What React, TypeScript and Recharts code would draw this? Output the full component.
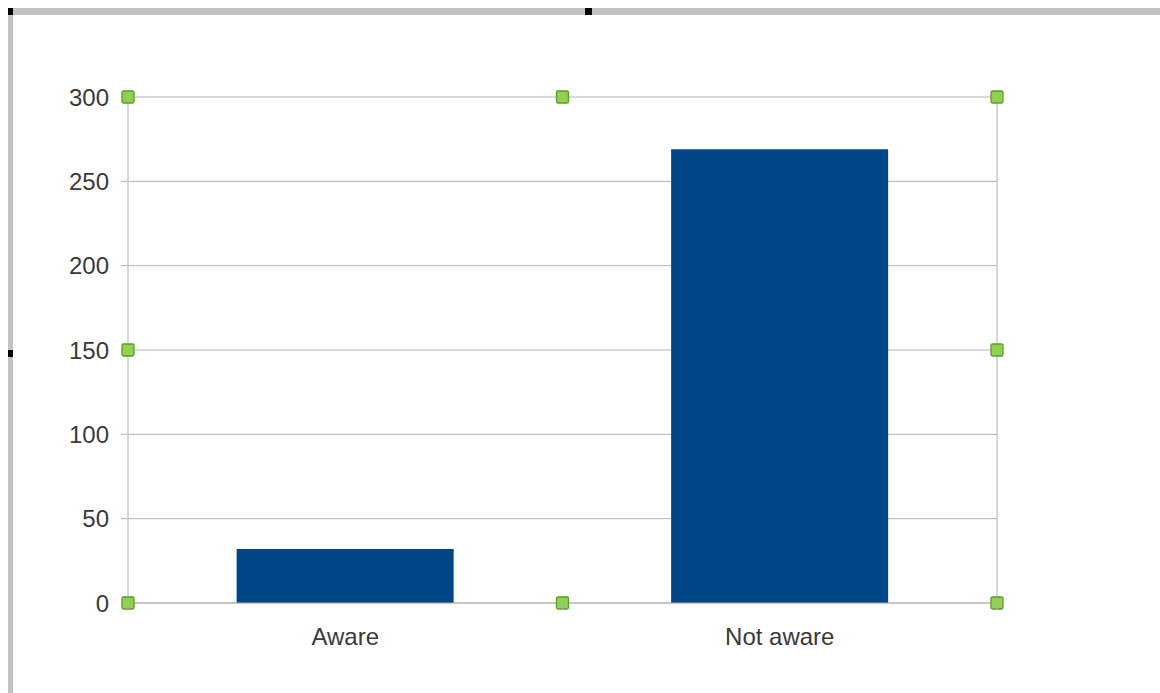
import React from "react";
import { ComposedChart, Bar, XAxis, YAxis, CartesianGrid, ReferenceLine, ReferenceDot } from "recharts";

const categories = ["Aware", "Not aware"];
const counts = [32, 269];
const yTicks = [0, 50, 100, 150, 200, 250, 300];
const boundaryTicks = [0, 0.5, 1, 1.5, 2];
const handleXs = [0, 1, 2, 0, 2, 0, 1, 2];
const handleYs = [300, 300, 300, 150, 150, 0, 0, 0];

const data = categories.map((name, i) => ({ name, value: counts[i], mid: i + 0.5 }));
const handles = handleXs.map((x, i) => ({ x, y: handleYs[i] }));

const FONT = '"Liberation Sans", Arial, sans-serif';
const GRID = "#b3b3b3";
const TEXT = "#3a3a3a";

const BoundaryTick = (props: any) => {
  const { x, y, payload } = props;
  const v = payload.value as number;
  if (Number.isInteger(v)) {
    return <line x1={x} x2={x} y1={y} y2={y + 7} stroke={GRID} strokeWidth={1} />;
  }
  const label = categories[Math.floor(v)];
  return (
    <text x={x} y={y + 42} textAnchor="middle" fill={TEXT} fontSize={24} fontFamily={FONT}>
      {label}
    </text>
  );
};

const Handle = (props: any) => {
  const { cx, cy } = props;
  return (
    <rect x={cx - 6} y={cy - 6} width={12} height={12} rx={1.5} fill="#92d050" stroke="#5b9b2f" strokeWidth={1.3} />
  );
};

export default function App() {
  return (
    <div style={{ position: "absolute", left: 0, top: 0, width: 1160, height: 693, background: "#fff", overflow: "hidden" }}>
      <div style={{ position: "absolute", left: 8, top: 8, width: 1152, height: 7, background: "#c3c3c3" }} />
      <div style={{ position: "absolute", left: 8, top: 8, width: 5, height: 685, background: "#c3c3c3" }} />
      <div style={{ position: "absolute", left: 8, top: 8, width: 5, height: 7, background: "#000" }} />
      <div style={{ position: "absolute", left: 585, top: 8, width: 7, height: 7, background: "#000" }} />
      <div style={{ position: "absolute", left: 8, top: 350, width: 5, height: 7, background: "#000" }} />
      <div style={{ position: "absolute", left: 0, top: 0 }}>
        <ComposedChart
          width={1160}
          height={693}
          data={data}
          margin={{ top: 97, right: 163, bottom: 0, left: 0 }}
          barCategoryGap="25%"
        >
          <CartesianGrid xAxisId="num" yAxisId="y" vertical={false} stroke={GRID} />
          <XAxis xAxisId="cat" dataKey="name" type="category" hide height={0} />
          <XAxis
            xAxisId="num"
            dataKey="mid"
            type="number"
            domain={[0, 2]}
            allowDataOverflow
            ticks={boundaryTicks}
            interval={0}
            height={90}
            tickSize={0}
            tickMargin={0}
            tickLine={false}
            axisLine={{ stroke: GRID }}
            tick={<BoundaryTick />}
            allowDecimals
          />
          <YAxis
            yAxisId="y"
            domain={[0, 300]}
            ticks={yTicks}
            interval={0}
            width={128}
            tickSize={7}
            tickMargin={12}
            tickLine={{ stroke: GRID }}
            axisLine={{ stroke: GRID }}
            tick={{ fill: TEXT, fontSize: 24, fontFamily: FONT }}
          />
          <ReferenceLine xAxisId="num" yAxisId="y" x={2} stroke={GRID} ifOverflow="visible" />
          <Bar xAxisId="cat" yAxisId="y" dataKey="value" fill="#004586" isAnimationActive={false} />
          {handles.map((h, i) => (
            <ReferenceDot
              key={i}
              xAxisId="num"
              yAxisId="y"
              x={h.x}
              y={h.y}
              r={6}
              ifOverflow="visible"
              shape={<Handle />}
            />
          ))}
        </ComposedChart>
      </div>
    </div>
  );
}
